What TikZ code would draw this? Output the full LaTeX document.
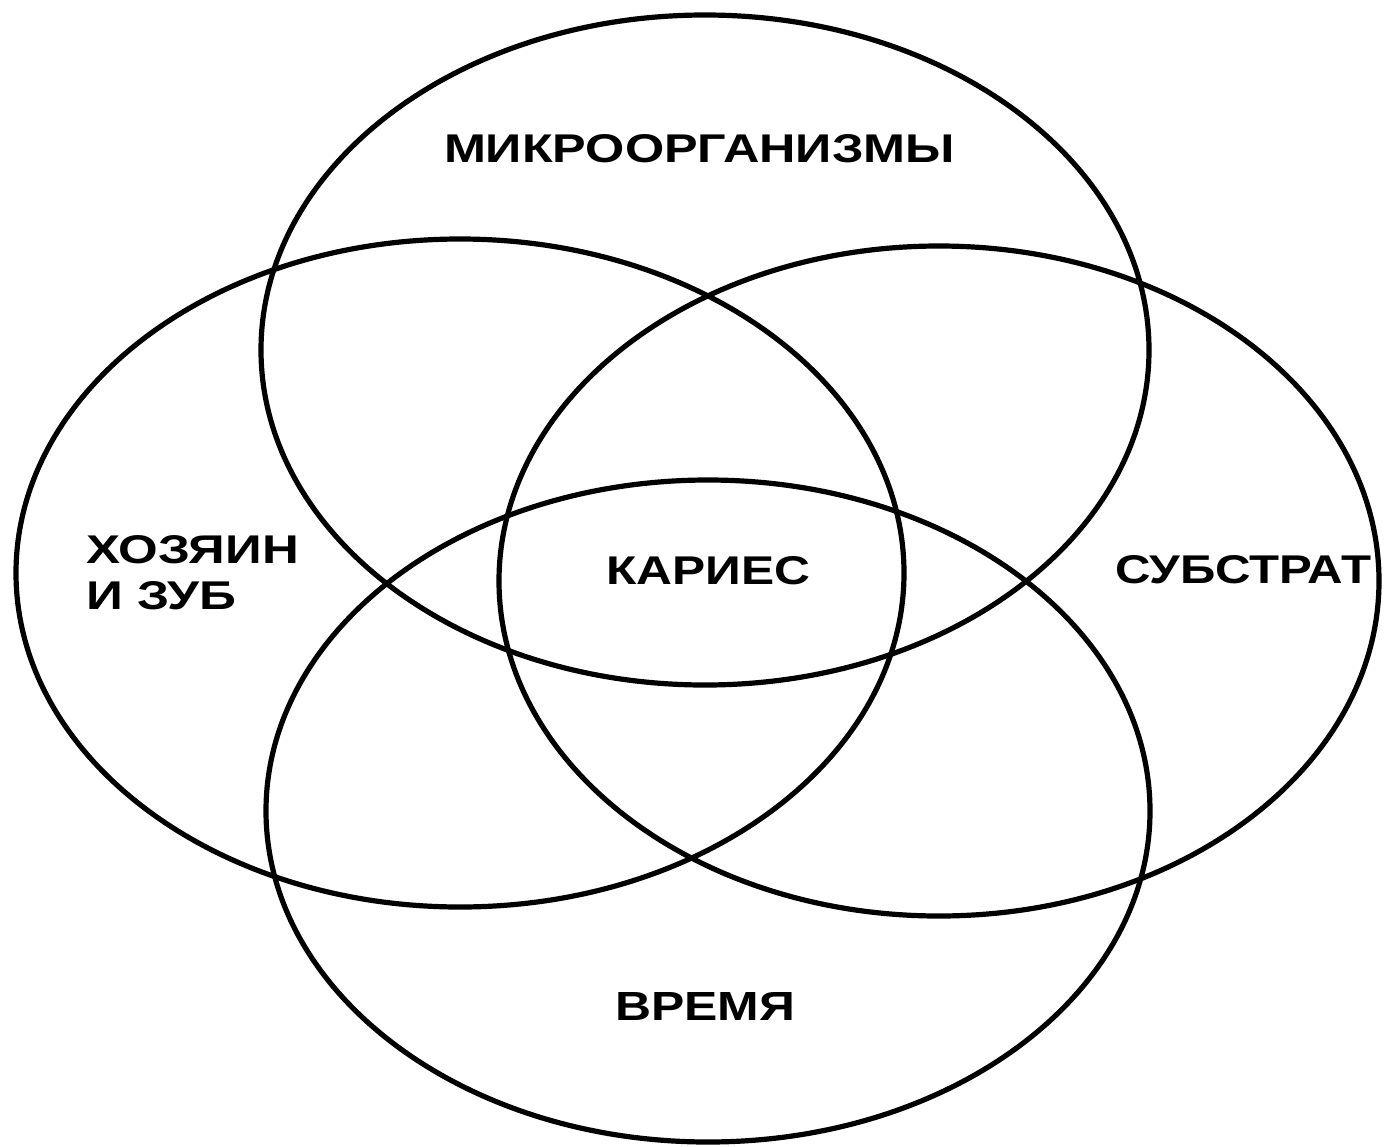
\documentclass[tikz,border=0pt]{standalone}
\usepackage{fontspec}
\setmainfont{Liberation Sans}
\usetikzlibrary{shapes.geometric}
\newcommand\fitlbl[3]{\resizebox{#1pt}{#2pt}{\bfseries #3}}
\begin{document}
\begin{tikzpicture}[x=1pt,y=-1pt,
  ring/.style={draw=black, line width=5.2pt, ellipse, inner sep=0pt},
  lbl/.style={inner sep=0pt, outer sep=0pt, text=black}]
\useasboundingbox (0,0) rectangle (1389,1146);
\fill[white] (0,0) rectangle (1389,1146);
% four overlapping ellipses
\node[ring, minimum width=888pt, minimum height=670pt] (micro) at (705,350) {};
\node[ring, minimum width=888pt, minimum height=668pt] (host)  at (460,573) {};
\node[ring, minimum width=880pt, minimum height=670pt] (subst) at (939,581) {};
\node[ring, minimum width=884pt, minimum height=662pt] (time)  at (708,811) {};
% labels
\node[lbl, anchor=south west] (lmicro) at (444,163) {\fitlbl{511}{28}{МИКРООРГАНИЗМЫ}};
\node[lbl, anchor=north west, align=left, font=\fontsize{28}{46}\selectfont] (lhost) at (86,535)
  {\fitlbl{213}{28}{ХОЗЯИН}\\\fitlbl{150}{28}{И ЗУБ}};
\node[lbl, anchor=south west] (lcaries) at (606,585) {\fitlbl{204}{28}{КАРИЕС}};
\node[lbl, anchor=south west] (lsubst) at (1115,584) {\fitlbl{256}{28}{СУБСТРАТ}};
\node[lbl, anchor=south west] (ltime) at (615,1020) {\fitlbl{180}{28}{ВРЕМЯ}};
\end{tikzpicture}
\end{document}
